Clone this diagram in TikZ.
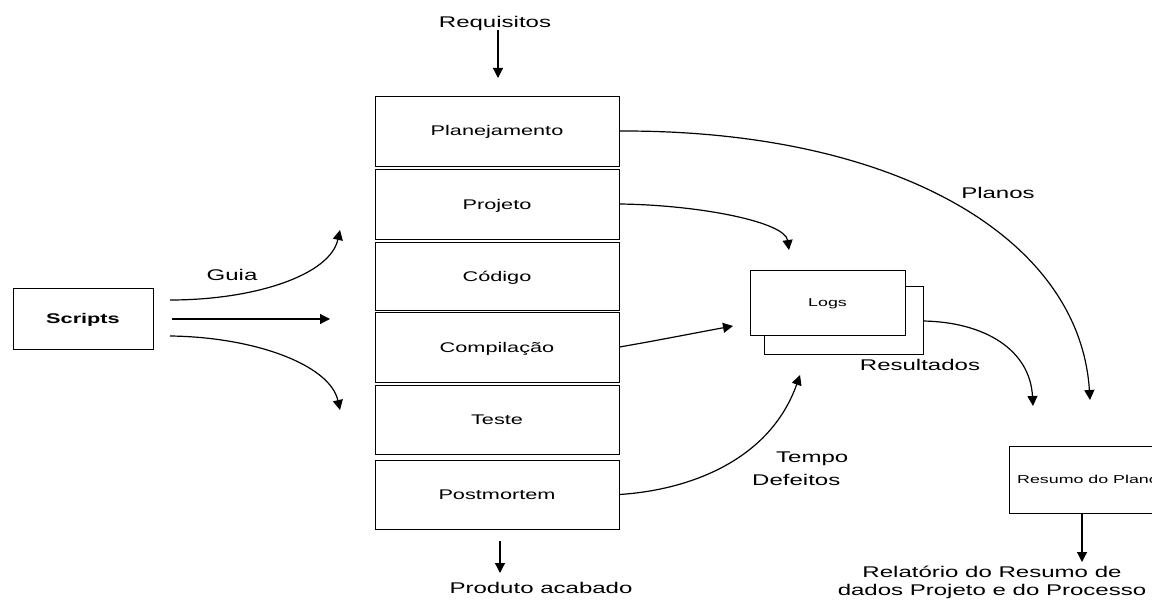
\documentclass[tikz,border=0pt]{standalone}
\usepackage{fontspec}
\setmainfont{Liberation Sans}[FakeStretch=1.55]
\usetikzlibrary{arrows.meta}

\begin{document}
\begin{tikzpicture}[x=1pt,y=-1pt,
  stage/.style={draw, line width=0.9pt, minimum width=244pt, inner sep=0pt,
    font=\fontsize{14}{16}\selectfont, text height=10pt, text depth=0pt},
  smallbox/.style={draw, line width=0.9pt, inner sep=0pt, fill=white,
    font=\fontsize{11.5}{13}\selectfont, text height=8pt, text depth=0pt},
  lbl/.style={anchor=base, inner sep=0pt, font=\fontsize{15.5}{18}\selectfont},
  conn/.style={line width=1.2pt, -{Triangle[length=10pt,width=10pt]}}
]
\useasboundingbox (0,0) rectangle (1152,607);
\clip (0,0) rectangle (1152,607);

% process stages
\node[stage, minimum height=70pt] (plan)  at (497,131)   {Planejamento};
\node[stage, minimum height=70pt] (proj)  at (497,204)   {Projeto};
\node[stage, minimum height=68pt] (cod)   at (497,276)   {Código};
\node[stage, minimum height=70pt] (comp)  at (497,347)   {Compilação};
\node[stage, minimum height=69pt] (teste) at (497,419.5) {Teste};
\node[stage, minimum height=69pt] (post)  at (497,494.5) {Postmortem};

% scripts
\node[draw, line width=0.9pt, minimum width=140pt, minimum height=61pt, inner sep=0pt,
  font=\fontsize{14}{16}\selectfont\bfseries, text height=10pt, text depth=0pt]
  (scripts) at (83,318.5) {Scripts};

% logs (stacked sheets)
\node[smallbox, minimum width=159pt, minimum height=68pt] (logsback) at (843.5,320) {};
\node[smallbox, minimum width=155pt, minimum height=65pt] (logs) at (827.5,302.5) {Logs};

% plan summary (runs past the right edge)
\node[smallbox, minimum width=158pt, minimum height=67pt] (resumo) at (1088,479.5) {Resumo do Plano};

% labels
\node[lbl] (req)  at (495,28)  {Requisitos};
\node[lbl] (prod) at (541,593) {Produto acabado};
\node[lbl] (guia) at (232,280) {Guia};
\node[lbl] (planos) at (998,199) {Planos};
\node[lbl] (result) at (920,370) {Resultados};
\node[lbl, anchor=base west] (tempo) at (776,462) {Tempo};
\node[lbl, anchor=base west] (defeitos) at (752,485) {Defeitos};
\node[lbl] (rel1) at (992,577) {Relatório do Resumo de};
\node[lbl] (rel2) at (992,595) {dados Projeto e do Processo};

% free connector ends
\coordinate (reqA) at (498,30);
\coordinate (reqB) at (498,78);
\coordinate (prodA) at (500,541);
\coordinate (prodB) at (500,573);
\coordinate (sUp) at (170,300);
\coordinate (sMid) at (172,319);
\coordinate (sLow) at (170,336);
\coordinate (tUp) at (340,230);
\coordinate (tMid) at (330,319);
\coordinate (tLow) at (340,410);
\coordinate (projTip) at (789,250);
\coordinate (compTip) at (733,326);
\coordinate (postTip) at (800,375);
\coordinate (resOut) at (923,321);
\coordinate (resTip) at (1033,406);
\coordinate (planTip) at (1090,400);
\coordinate (sumOut) at (1082,513);
\coordinate (sumTip) at (1082,562);

% connectors
\draw[conn] (reqA) -- (reqB);
\draw[conn] (prodA) -- (prodB);
\draw[conn] (sUp) .. controls (255,300) and (330,275) .. (tUp);
\draw[conn] (sMid) -- (tMid);
\draw[conn] (sLow) .. controls (255,337) and (330,365) .. (tLow);
\draw[conn] (plan.east) .. controls (900,130) and (1080,240) .. (planTip);
\draw[conn] (proj.east) .. controls (700,205) and (785,222) .. (projTip);
\draw[conn] (comp.east) .. controls (660,340) and (700,332) .. (compTip);
\draw[conn] (post.east) .. controls (690,490) and (770,460) .. (postTip);
\draw[conn] (resOut) .. controls (985,322) and (1030,350) .. (resTip);
\draw[conn] (sumOut) -- (sumTip);
\end{tikzpicture}
\end{document}
